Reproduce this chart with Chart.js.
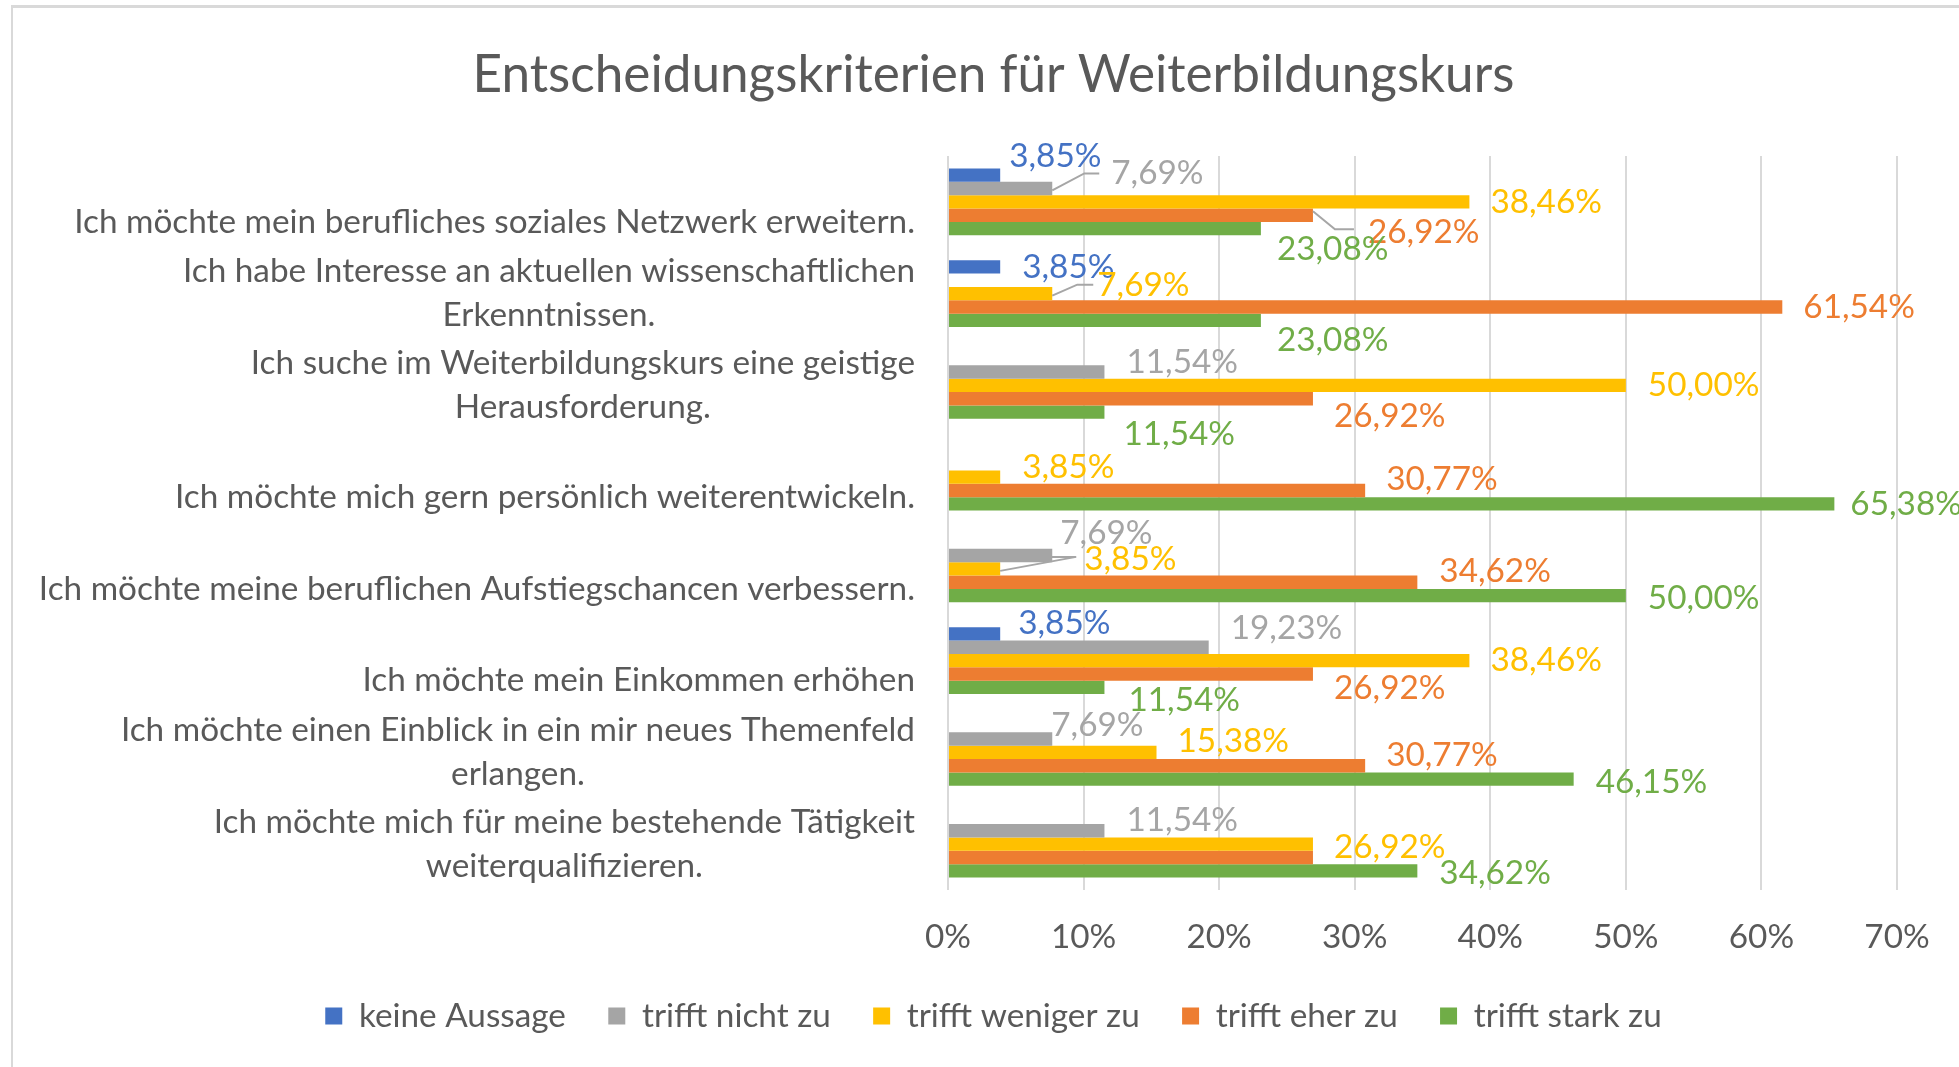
<!DOCTYPE html>
<html><head><meta charset="utf-8">
<script src="https://cdn.jsdelivr.net/npm/chart.js@4.4.1/dist/chart.umd.min.js"></script>
<style>
html,body{margin:0;padding:0;background:#fff;overflow:hidden}
#wrap{position:relative;width:1959px;height:1067px}
canvas{position:absolute;left:0;top:0}
#frame{position:absolute;left:11px;top:5px;right:0;bottom:0;border-top:3px solid #D9D9D9;border-left:2px solid #D9D9D9;pointer-events:none}
</style></head>
<body><div id="wrap"><canvas id="c" width="1959" height="1067"></canvas><div id="frame"></div></div>
<script>
// ---------- data ----------
const chartTitle = "Entscheidungskriterien für Weiterbildungskurs";
const categories = [
  ["Ich möchte mein berufliches soziales Netzwerk erweitern."],
  ["Ich habe Interesse an aktuellen wissenschaftlichen", "Erkenntnissen."],
  ["Ich suche im Weiterbildungskurs eine geistige", "Herausforderung."],
  ["Ich möchte mich gern persönlich weiterentwickeln."],
  ["Ich möchte meine beruflichen Aufstiegschancen verbessern."],
  ["Ich möchte mein Einkommen erhöhen"],
  ["Ich möchte einen Einblick in ein mir neues Themenfeld", "erlangen."],
  ["Ich möchte mich für meine bestehende Tätigkeit", "weiterqualifizieren."]
];
const seriesNames = ["keine Aussage", "trifft nicht zu", "trifft weniger zu", "trifft eher zu", "trifft stark zu"];
const keineAussage    = [3.85, 3.85, null, null, null, 3.85, null, null];
const trifftNichtZu   = [7.69, null, 11.54, null, 7.69, 19.23, 7.69, 11.54];
const trifftWenigerZu = [38.46, 7.69, 50.00, 3.85, 3.85, 38.46, 15.38, 26.92];
const trifftEherZu    = [26.92, 61.54, 26.92, 30.77, 34.62, 26.92, 30.77, 26.92];
const trifftStarkZu   = [23.08, 23.08, 11.54, 65.38, 50.00, 11.54, 46.15, 34.62];
const xTickMin = 0, xTickMax = 70, xTickStep = 10;

// ---------- styling ----------
const seriesColors = ["#4472C4", "#A5A5A5", "#FFC000", "#ED7D31", "#70AD47"];
const TEXT = "#595959";
const FONT = 'Lato, "Open Sans", sans-serif';

function fitSize(text, target) {
  const c = document.createElement('canvas').getContext('2d');
  c.font = '100px ' + FONT;
  return 100 * target / c.measureText(text).width;
}
const ls = fitSize(categories[0][0], 841);   // label font size
const ts = fitSize(chartTitle, 1042);        // title font size
const xPad = 47 - 0.6 * ls;

// data label placement tweaks [dx, dy] relative to bar end (null = hidden)
const D = [21, 0];
const labelPlacement = [
  [[9,-19],[22,0],D,D,D,[18,-11],D,D],
  [[59,-15],D,[22,-10],D,[8,-22],[22,-19],[-1,-14],[22,-10]],
  [D,[45,-8],[22,0],[22,-10],[84,-10],D,[21,-11],[21,3]],
  [[55,17],D,[21,17],[21,-11],[22,-11],[21,14],[21,-11],null],
  [[16,21],[16,20],[19,22],[16,0],[22,3],[24,13],[22,3],[22,2]]
];
const leaders = [
  {ds:1, i:0, pts:[[0,2],[32,-15],[47,-15]]},
  {ds:3, i:0, pts:[[0,-4],[22,14],[41,14]]},
  {ds:2, i:1, pts:[[0,2],[25,-9],[41,-9]]},
  {ds:2, i:4, pts:[[0,2],[76,-12],[51,-12]]}
];

const fmt = v => v.toFixed(2).replace('.', ',') + '%';

const yLabelPlugin = {
  id: 'yLabels',
  afterDraw(chart) {
    const ctx = chart.ctx, y = chart.scales.y, right = chart.chartArea.left - 33;
    const gap = 44;
    ctx.save();
    ctx.font = ls + 'px ' + FONT;
    ctx.fillStyle = TEXT;
    ctx.textAlign = 'center';
    ctx.textBaseline = 'middle';
    categories.forEach((lines, i) => {
      const cy = y.getPixelForTick(i);
      const w = Math.max(...lines.map(l => ctx.measureText(l).width));
      const cx = right - w / 2;
      if (lines.length === 1) {
        ctx.fillText(lines[0], cx, cy + gap / 2 - 2);
      } else {
        lines.forEach((l, j) => ctx.fillText(l, cx, cy + (j - (lines.length - 1) / 2) * gap));
      }
    });
    ctx.restore();
  }
};

const dataLabelPlugin = {
  id: 'dataLabels',
  afterDatasetsDraw(chart) {
    const ctx = chart.ctx;
    ctx.save();
    ctx.strokeStyle = '#A6A6A6';
    ctx.lineWidth = 2;
    leaders.forEach(L => {
      const bar = chart.getDatasetMeta(L.ds).data[L.i];
      ctx.beginPath();
      L.pts.forEach((p, k) => k ? ctx.lineTo(bar.x + p[0], bar.y + p[1]) : ctx.moveTo(bar.x + p[0], bar.y + p[1]));
      ctx.stroke();
    });
    ctx.font = ls + 'px ' + FONT;
    ctx.textAlign = 'left';
    ctx.textBaseline = 'middle';
    chart.data.datasets.forEach((ds, d) => {
      const meta = chart.getDatasetMeta(d);
      ds.data.forEach((v, i) => {
        const pl = labelPlacement[d][i];
        if (v == null || !pl) return;
        const bar = meta.data[i];
        ctx.fillStyle = seriesColors[d];
        ctx.fillText(fmt(v), bar.x + pl[0], bar.y + pl[1]);
      });
    });
    ctx.restore();
  }
};

const allSeries = [keineAussage, trifftNichtZu, trifftWenigerZu, trifftEherZu, trifftStarkZu];

new Chart(document.getElementById('c'), {
  type: 'bar',
  data: {
    labels: categories.map(l => l.join(' ')),
    datasets: allSeries.map((s, k) => ({
      label: seriesNames[k],
      data: s,
      backgroundColor: seriesColors[k],
      borderWidth: 0,
      categoryPercentage: 0.73,
      barPercentage: 1.0
    }))
  },
  options: {
    indexAxis: 'y',
    responsive: false,
    animation: false,
    devicePixelRatio: 1,
    layout: { padding: { left: 90, right: 62, top: 0, bottom: 41 - 0.5 * ls } },
    plugins: {
      title: {
        display: true, text: chartTitle, color: TEXT,
        font: { family: FONT, size: ts, weight: 'normal', lineHeight: 1.2 },
        padding: { top: 75 - 0.6 * ts, bottom: 81 - 0.6 * ts }
      },
      legend: {
        position: 'bottom',
        labels: {
          color: TEXT, font: { family: FONT, size: ls },
          boxWidth: 17, boxHeight: 17, padding: 79 - 1.1 * ls
        }
      },
      tooltip: { enabled: false }
    },
    scales: {
      x: {
        min: xTickMin, max: xTickMax,
        ticks: { stepSize: xTickStep, callback: v => v + '%', color: TEXT,
                 font: { family: FONT, size: ls, lineHeight: 1.2 }, padding: xPad },
        grid: { color: '#D9D9D9', lineWidth: 2, drawTicks: false },
        border: { display: false },
        afterFit(s) { s.height = xPad + 1.2 * ls; }
      },
      y: {
        ticks: { display: false },
        grid: { display: false },
        border: { display: false },
        afterFit(s) { s.width = 858; }
      }
    }
  },
  plugins: [yLabelPlugin, dataLabelPlugin]
});
</script>
</body></html>
